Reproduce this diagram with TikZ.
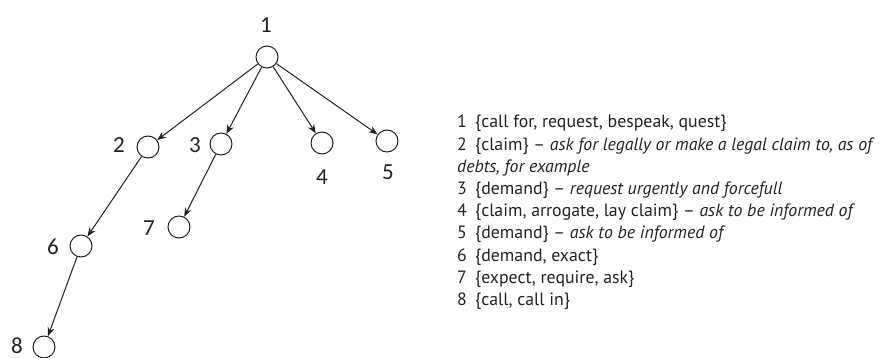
\documentclass[tikz,border=0pt]{standalone}
\usepackage{fontspec}
\setmainfont{PT Sans}
\newfontfamily\labelfont{Carlito}
\usetikzlibrary{arrows.meta}
\definecolor{ink}{HTML}{222222}
\begin{document}
\begin{tikzpicture}[x=1pt,y=-1pt,
  vtx/.style={circle,draw=ink,line width=1pt,minimum size=22pt,inner sep=0pt},
  num/.style={font=\labelfont\fontsize{23}{23}\selectfont,text=ink,inner sep=0pt},
  edge/.style={draw=ink,line width=1pt,-{Stealth[length=9pt,width=7pt]}},
  row/.style={anchor=base west,inner sep=0pt,font=\fontsize{17.8}{20}\selectfont,text=ink}]
\useasboundingbox (0,0) rectangle (879,358);
% tree vertices
\node[vtx] (v1) at (267,57) {};
\node[vtx] (v2) at (148,147) {};
\node[vtx] (v3) at (221,144) {};
\node[vtx] (v4) at (322,143) {};
\node[vtx] (v5) at (387,141) {};
\node[vtx] (v6) at (81,246) {};
\node[vtx] (v7) at (179,227) {};
\node[vtx] (v8) at (44,347) {};
% vertex numbers
\node[num] (n1) at (266,25) {1};
\node[num] (n2) at (119,145) {2};
\node[num] (n3) at (195,145) {3};
\node[num] (n4) at (322,177) {4};
\node[num] (n5) at (388,172) {5};
\node[num] (n6) at (53,247) {6};
\node[num] (n7) at (149,228) {7};
\node[num] (n8) at (17,346) {8};
% hyponymy edges
\draw[edge] (v1) -- (v2);
\draw[edge] (v1) -- (v3);
\draw[edge] (v1) -- (v4);
\draw[edge] (v1) -- (v5);
\draw[edge] (v2) -- (v6);
\draw[edge] (v3) -- (v7);
\draw[edge] (v6) -- (v8);
% legend of synsets
\node[row] (k1) at (457,128) {1};
\node[row] (t1) at (475,128) {\{call for, request, bespeak, quest\}};
\node[row] (k2) at (457,150.2) {2};
\node[row] (t2) at (475,150.2) {\{claim\} -- \textit{ask for legally or make a legal claim to, as of}};
\node[row] (t2b) at (457,172.4) {\textit{debts, for example}};
\node[row] (k3) at (457,194.6) {3};
\node[row] (t3) at (475,194.6) {\{demand\} -- \textit{request urgently and forcefull}};
\node[row] (k4) at (457,216.8) {4};
\node[row] (t4) at (475,216.8) {\{claim, arrogate, lay claim\} -- \textit{ask to be informed of}};
\node[row] (k5) at (457,239) {5};
\node[row] (t5) at (475,239) {\{demand\} -- \textit{ask to be informed of}};
\node[row] (k6) at (457,261.2) {6};
\node[row] (t6) at (475,261.2) {\{demand, exact\}};
\node[row] (k7) at (457,283.4) {7};
\node[row] (t7) at (475,283.4) {\{expect, require, ask\}};
\node[row] (k8) at (457,305.6) {8};
\node[row] (t8) at (475,305.6) {\{call, call in\}};
\end{tikzpicture}
\end{document}
